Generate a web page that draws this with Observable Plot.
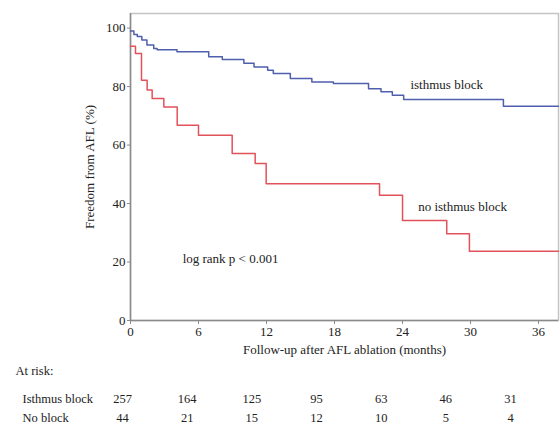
<!DOCTYPE html>
<html><head><meta charset="utf-8">
<script src="https://cdn.jsdelivr.net/npm/d3@7"></script>
<script src="https://cdn.jsdelivr.net/npm/@observablehq/plot@0.6"></script>
<style>
body{margin:0;background:#fff;}
#chart{width:560px;}
#chart svg{display:block;}
</style></head><body><div id="chart"></div>
<script>
// Kaplan-Meier steps (months, % free from AFL)
const blockTimes = [0, 0.3, 0.6, 1.0, 1.45, 2.05, 2.35, 4.1, 6.9, 8.1, 10.0, 10.9, 12.1, 12.6, 14.1, 16.0, 17.9, 21.0, 22.1, 23.1, 24.1, 32.9, 37.76];
const blockSurv  = [99, 97.8, 97.1, 95.9, 94.2, 93.0, 92.6, 91.9, 90.2, 89.3, 88.0, 86.7, 85.6, 84.5, 82.8, 81.6, 81.1, 79.3, 78.2, 77.0, 75.6, 73.3, 73.3];
const noBlockTimes = [0, 0.44, 0.97, 1.47, 1.91, 2.94, 4.12, 6.0, 8.97, 11.0, 11.97, 21.97, 24.0, 27.9, 29.9, 37.76];
const noBlockSurv  = [93.8, 91.3, 82.2, 78.8, 75.9, 73.0, 66.8, 63.4, 57.1, 53.7, 46.8, 42.8, 34.2, 29.7, 23.7, 23.7];
const xTicks = [0, 6, 12, 18, 24, 30, 36];
const yTicks = [0, 20, 40, 60, 80, 100];
// in-plot annotations (months, %)
const curveLabelT = [27.9, 29.3];
const curveLabelV = [80.5, 38.8];
const curveLabelText = ["isthmus block", "no isthmus block"];
const statT = [4.6];
const statV = [21.1];
const statText = ["log rank p < 0.001"];
// At-risk table
const riskTimes = [0, 6, 12, 18, 24, 30, 36];
const riskRows = ["Isthmus block", "No block"];
const riskBlock = [257, 164, 125, 95, 63, 46, 31];
const riskNoBlock = [44, 21, 15, 12, 10, 5, 4];

const font = "'Liberation Serif', 'Times New Roman', serif";
const blue = "#4f5fae";
const red = "#e2525a";
const ink = "#222";

const block = blockTimes.map((t, i) => ({t, v: blockSurv[i]}));
const noBlock = noBlockTimes.map((t, i) => ({t, v: noBlockSurv[i]}));
const curveLabels = curveLabelText.map((text, i) => ({t: curveLabelT[i], v: curveLabelV[i], text}));
const stats = statText.map((text, i) => ({t: statT[i], v: statV[i], text}));

const main = Plot.plot({
  width: 560, height: 360,
  marginLeft: 130, marginRight: 2, marginTop: 13, marginBottom: 40,
  style: {fontFamily: font, fontSize: "13px", color: ink, background: "#fff"},
  x: {domain: [0, 37.76]},
  y: {domain: [0, 105]},
  marks: [
    Plot.frame({stroke: "#c4c4c4", strokeWidth: 1.5}),
    Plot.ruleY([0], {stroke: "#8a8a8a", strokeWidth: 1.5}),
    Plot.ruleX([0], {stroke: "#8a8a8a", strokeWidth: 1.5}),
    Plot.axisX({ticks: xTicks, tickSize: 4, tickPadding: 2, stroke: "#8a8a8a", fontSize: 13,
      label: "Follow-up after AFL ablation (months)", labelArrow: "none", labelAnchor: "center", labelOffset: 33}),
    Plot.axisY({ticks: yTicks, tickSize: 3, tickPadding: 2, stroke: "#8a8a8a", fontSize: 13,
      label: "Freedom from AFL (%)", labelArrow: "none", labelAnchor: "center", labelOffset: 46}),
    Plot.line(block, {x: "t", y: "v", curve: "step-after", stroke: blue, strokeWidth: 1.5}),
    Plot.line(noBlock, {x: "t", y: "v", curve: "step-after", stroke: red, strokeWidth: 1.5}),
    Plot.text(curveLabels, {x: "t", y: "v", text: "text", textAnchor: "middle", fontSize: 13, fill: ink}),
    Plot.text(stats, {x: "t", y: "v", text: "text", textAnchor: "start", fontSize: 13, fill: ink})
  ]
});

const riskData = [
  ...riskTimes.map((t, i) => ({t, row: riskRows[0], n: riskBlock[i]})),
  ...riskTimes.map((t, i) => ({t, row: riskRows[1], n: riskNoBlock[i]}))
];

const risk = Plot.plot({
  width: 560, height: 74,
  margin: 0,
  style: {fontFamily: font, fontSize: "12.5px", color: ink, background: "#fff"},
  x: {domain: [0, 36], range: [122, 510], axis: null},
  y: {type: "point", domain: riskRows, range: [38, 57], padding: 0, axis: null},
  marks: [
    Plot.text(["At risk:"], {frameAnchor: "top-left", dx: 15, dy: 10, textAnchor: "start", lineAnchor: "middle", fontSize: 12.5, fill: ink}),
    Plot.text(riskRows, {y: d => d, text: d => d, frameAnchor: "left", dx: 22, textAnchor: "start", fontSize: 12.5, fill: ink}),
    Plot.text(riskData, {x: "t", y: "row", text: "n", fontSize: 12.5, fill: ink})
  ]
});

document.getElementById("chart").append(main, risk);
</script>
</body></html>
